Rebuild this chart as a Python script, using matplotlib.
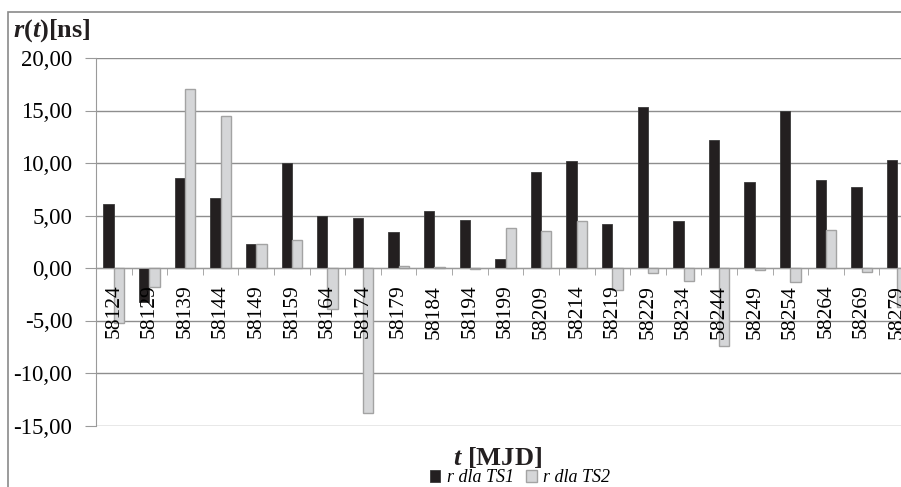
import numpy as np
import matplotlib
matplotlib.use("Agg")
import matplotlib.pyplot as plt
from matplotlib.ticker import FuncFormatter, FixedLocator
from matplotlib.patches import Rectangle

plt.rcParams["font.family"] = ["Liberation Serif", "DejaVu Serif"]
plt.rcParams["mathtext.fontset"] = "custom"
plt.rcParams["mathtext.rm"] = "Liberation Serif:bold"
plt.rcParams["mathtext.it"] = "Liberation Serif:italic:bold"
plt.rcParams["mathtext.bf"] = "Liberation Serif:bold"

dates = ["58124", "58129", "58139", "58144", "58149", "58159", "58164", "58174",
         "58179", "58184", "58194", "58199", "58209", "58214", "58219", "58229",
         "58234", "58244", "58249", "58254", "58264", "58269", "58279"]
r_ts1 = [6.1, -3.24, 8.6, 6.7, 2.3, 10.0, 5.0, 4.8, 3.46, 5.46, 4.54, 0.86,
         9.14, 10.16, 4.16, 15.37, 4.5, 12.19, 8.16, 15.0, 8.41, 7.71, 10.3]
r_ts2 = [-5.2, -1.78, 17.05, 14.45, 2.3, 2.67, -3.9, -13.8, 0.2, 0.05, -0.1, 3.8,
         3.52, 4.44, -2.1, -0.5, -1.2, -7.43, -0.2, -1.3, 3.59, -0.4, -3.7]
yticks = [-15, -10, -5, 0, 5, 10, 15, 20]

W, H = 901, 487
fig = plt.figure(figsize=(W / 100, H / 100), dpi=100)
# axes is wider than the figure: last category is cut off like in the source
ax = fig.add_axes([96 / W, 1 - 425.5 / H, 819 / W, 367.5 / H])

x = np.arange(len(dates))
bw = 0.29
ax.bar(x - 0.145, r_ts1, bw, color="#231f20", edgecolor="#3a3a3a", lw=0.6,
       label="r dla TS1", zorder=2)
ax.bar(x + 0.145, r_ts2, bw, color="#d5d6d8", edgecolor="#a3a3a3", lw=1.0,
       label="r dla TS2", zorder=2)

ax.set_xlim(-0.5, len(dates) - 0.5)
ax.set_ylim(-15, 20)
ax.set_yticks(yticks)
ax.yaxis.set_major_formatter(FuncFormatter(lambda v, p: f"{v:.2f}".replace(".", ",")))
ax.grid(axis="y", color="#8e8e8e", lw=1.0)
ax.set_axisbelow(True)
ax.xaxis.set_zorder(3)

ax.xaxis.set_minor_locator(FixedLocator(np.arange(-0.5, len(dates), 1)))
ax.tick_params(axis="x", which="major", length=0, pad=12, labelrotation=90,
               labelsize=15.5)
ax.tick_params(axis="x", which="minor", length=5, color="#9a9a9a", direction="out")
ax.tick_params(axis="y", length=8, color="#9a9a9a", labelsize=16.5, pad=9)
ax.set_xticks(x)
ax.set_xticklabels(dates)
for lbl in ax.get_xticklabels():
    lbl.set_rotation(90)
    lbl.set_va("top")
    lbl.set_ha("center")

for s in ["top", "right"]:
    ax.spines[s].set_visible(False)
ax.spines["left"].set_color("#9a9a9a")
ax.spines["bottom"].set_position(("data", 0))
ax.spines["bottom"].set_color("#9a9a9a")

fig.text(13 / W, 1 - 31 / H, r"$r(t)\mathrm{[ns]}$", fontsize=19,
         ha="left", va="center", color="#231f20")
fig.text(497 / W, 1 - 457 / H, r"$t\ \mathrm{[MJD]}$", fontsize=19,
         ha="center", va="center", color="#231f20")

fig.legend(loc="center", bbox_to_anchor=(520 / W, 1 - 478 / H), ncol=2,
           frameon=False, prop={"style": "italic", "size": 13},
           handlelength=0.6, handleheight=0.6, handletextpad=0.35,
           columnspacing=0.7, borderpad=0)

fig.patches.append(Rectangle((8 / W, -0.1), 1.2, 1.1 - 12 / H,
                             transform=fig.transFigure, fill=False,
                             edgecolor="#8a8a8a", lw=1.2))

fig.savefig("out.png", dpi=100)
